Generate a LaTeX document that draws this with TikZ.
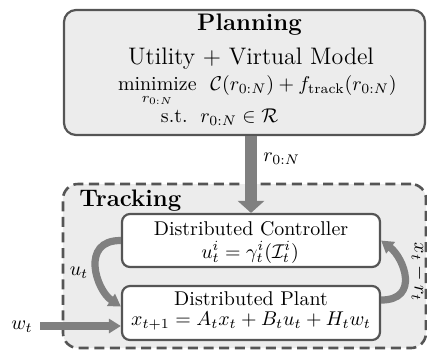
\documentclass[tikz,border=0pt]{standalone}
\usepackage{amsmath,amssymb}
\usetikzlibrary{arrows.meta}
\definecolor{edgegray}{RGB}{85,85,85}
\definecolor{panelgray}{RGB}{236,236,236}
\definecolor{flowgray}{RGB}{128,128,128}
\tikzset{
  panel/.style={draw=edgegray, line width=1.1bp, fill=panelgray, rounded corners=6bp, inner sep=0pt},
  trackpanel/.style={draw=edgegray, line width=1.3bp, fill=panelgray, rounded corners=7.5bp,
    dash pattern=on 5bp off 2.8bp, inner sep=0pt},
  blockbox/.style={draw=edgegray, line width=1.1bp, fill=white, rounded corners=4bp, inner sep=0pt,
    minimum width=129bp},
  label/.style={inner sep=0pt, anchor=base},
  bigflow/.style={draw=flowgray, line width=6bp, -{Triangle[width=13bp,length=6bp]}},
  flow/.style={draw=flowgray, line width=3.6bp, -{Triangle[width=7bp,length=6bp]}},
}
\begin{document}
\begin{tikzpicture}[x=0.5bp,y=-0.5bp]
\useasboundingbox (0,0) rectangle (427,351);

% planning layer
\node[panel, minimum width=180.5bp, minimum height=62.5bp] (plan) at (244.5,72.5) {};
\node[label, font=\large\bfseries] (planT) at (249.5,30.7) {Planning};
\node[label, font=\large] (planU) at (251,64) {Utility + Virtual Model};
% optimisation problem
\node[label, anchor=base east] (optL1) at (197,90.5) {$\underset{r_{0:N}}{\text{minimize}}$};
\node[label, anchor=base west] (optR1) at (210,90.5) {$\mathcal{C}(r_{0:N}) + f_{\text{track}}(r_{0:N})$};
\node[label, anchor=base east] (optL2) at (188,122) {s.t.};
\node[label, anchor=base west] (optR2) at (200,122) {$r_{0:N}\in\mathcal{R}$};

% tracking layer
\node[trackpanel, minimum width=181.5bp, minimum height=82bp] (track) at (244.5,266) {};
\node[label, anchor=base west, font=\large\bfseries] (trackT) at (79,206.7) {Tracking};

\node[blockbox, minimum height=26.5bp] (ctrl) at (251,240.5) {};
\node[label] (ctrlA) at (251,235) {Distributed Controller};
\node[label] (ctrlB) at (250,258) {$u_t^i = \gamma_t^i(\mathcal{I}_t^i)$};

\node[blockbox, minimum height=27bp] (plant) at (251,313) {};
\node[label] (plantA) at (251,305) {Distributed Plant};
\node[label] (plantB) at (251,325) {$x_{t+1} = A_t x_t + B_t u_t + H_t w_t$};

% reference trajectory
\draw[bigflow] (plan.south -| ctrl.north) -- (ctrl.north);
\node[label, anchor=base west] (rlab) at (263,161.7) {$r_{0:N}$};

% feedback loop
\draw[flow] (ctrl.west) .. controls (80,240) and (96,290) .. ([yshift=3.25bp]plant.west);
\node[label] (ulab) at (79,275) {$u_t$};
\draw[flow] ([yshift=6.5bp]plant.east) .. controls (420,300) and (404,258) .. (ctrl.east);
\node[inner sep=0pt, rotate=-90] (xlab) at (419,272) {$x_t - r_t$};

% disturbance
\coordinate (wstart) at (40,326);
\node[label] (wlab) at (22,329) {$w_t$};
\draw[flow] (wstart) -- (wstart -| plant.west);
\end{tikzpicture}
\end{document}
